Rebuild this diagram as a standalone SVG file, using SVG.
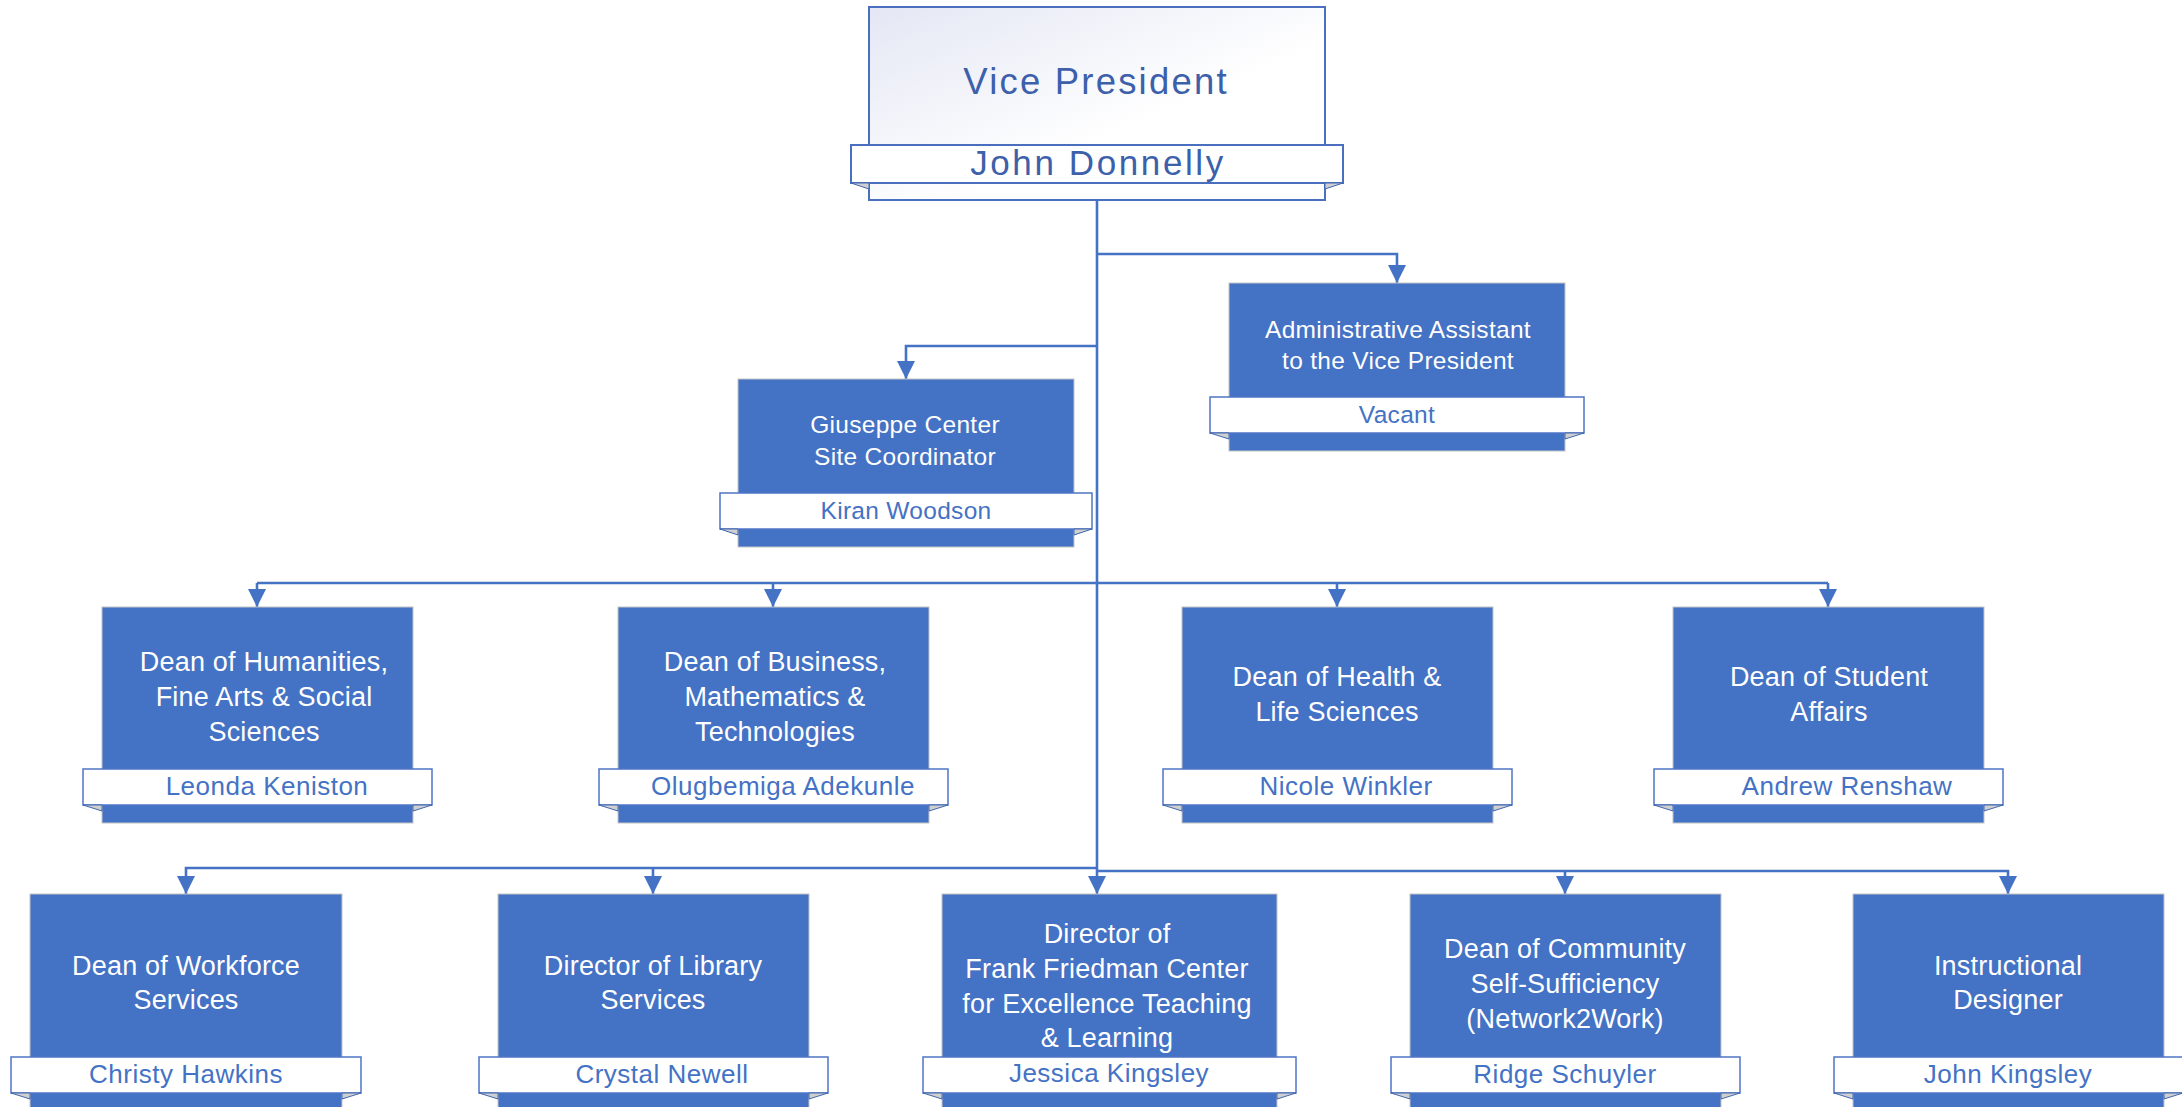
<svg xmlns="http://www.w3.org/2000/svg" width="2182" height="1107" viewBox="0 0 2182 1107">
<style>
.box{fill:#4472c4;stroke:#c4c4c4;stroke-width:1}
.ban{fill:#ffffff;stroke:#4f76c6;stroke-width:1.5}
.fold{fill:#cfcfcf;stroke:#4066b0;stroke-width:1}
.t{font-family:"Liberation Sans",Arial,sans-serif;font-size:27px;fill:#ffffff;text-anchor:middle;letter-spacing:0.2px}
.ts{font-family:"Liberation Sans",Arial,sans-serif;font-size:24.5px;fill:#ffffff;text-anchor:middle;letter-spacing:0.3px}
.n{font-family:"Liberation Sans",Arial,sans-serif;font-size:26px;fill:#4472c4;text-anchor:middle;letter-spacing:0.5px}
.ns{font-family:"Liberation Sans",Arial,sans-serif;font-size:24.5px;fill:#4472c4;text-anchor:middle;letter-spacing:0.3px}
.vp{font-family:"Liberation Sans",Arial,sans-serif;fill:#3d60ab;text-anchor:middle}
.c{fill:none;stroke:#4472c4;stroke-width:2.6}
</style>
<defs>
<linearGradient id="vpg" x1="0" y1="0" x2="1" y2="1">
<stop offset="0" stop-color="#e4e7f4"/>
<stop offset="0.6" stop-color="#ffffff"/>
</linearGradient>
<marker id="ah" markerUnits="userSpaceOnUse" markerWidth="18" markerHeight="18" viewBox="0 0 18 18" refX="18" refY="9" orient="auto">
<path d="M0,0 L18,9 L0,18 z" fill="#4472c4"/>
</marker>
</defs>

<g id="connectors">
<path class="c" d="M1097,200 V894" marker-end="url(#ah)"/>
<path class="c" d="M1097,254 H1397 V283" marker-end="url(#ah)"/>
<path class="c" d="M1097,346 H906 V379" marker-end="url(#ah)"/>
<path class="c" d="M257,583 H1828"/>
<path class="c" d="M257,583 V607" marker-end="url(#ah)"/>
<path class="c" d="M773,583 V607" marker-end="url(#ah)"/>
<path class="c" d="M1337,583 V607" marker-end="url(#ah)"/>
<path class="c" d="M1828,583 V607" marker-end="url(#ah)"/>
<path class="c" d="M1097,868 H186 V894" marker-end="url(#ah)"/>
<path class="c" d="M653,868 V894" marker-end="url(#ah)"/>
<path class="c" d="M1097,871 H2008 V894" marker-end="url(#ah)"/>
<path class="c" d="M1565,871 V894" marker-end="url(#ah)"/>
</g>

<g id="vice-president">
<rect x="869" y="7" width="456" height="193" fill="url(#vpg)" stroke="#4a6fbe" stroke-width="2"/>
<rect x="851" y="145" width="492" height="38" fill="#ffffff" stroke="#4a6fbe" stroke-width="2"/>
<polygon class="fold" points="851,183 869,183 869,189"/>
<polygon class="fold" points="1325,183 1343,183 1325,189"/>
<text class="vp" x="1096" y="94" font-size="36.5" letter-spacing="2.2">Vice President</text>
<text class="vp" x="1098" y="175" font-size="35" letter-spacing="2.6">John Donnelly</text>
</g>

<g id="admin-assistant">
<rect class="box" x="1229" y="283" width="336" height="168"/>
<rect class="ban" x="1210" y="397" width="374" height="36"/>
<polygon class="fold" points="1210,433 1229,433 1229,439"/>
<polygon class="fold" points="1565,433 1584,433 1565,439"/>
<text class="ts" x="1398" y="338">Administrative Assistant</text>
<text class="ts" x="1398" y="369">to the Vice President</text>
<text class="ns" x="1397" y="423">Vacant</text>
</g>

<g id="giuseppe">
<rect class="box" x="738" y="379" width="336" height="168"/>
<rect class="ban" x="720" y="493" width="372" height="36"/>
<polygon class="fold" points="720,529 738,529 738,535"/>
<polygon class="fold" points="1074,529 1092,529 1074,535"/>
<text class="ts" x="905" y="433">Giuseppe Center</text>
<text class="ts" x="905" y="465">Site Coordinator</text>
<text class="ns" x="906" y="519">Kiran Woodson</text>
</g>

<g id="dean-humanities">
<rect class="box" x="102" y="607" width="311" height="216"/>
<rect class="ban" x="83" y="769" width="349" height="36"/>
<polygon class="fold" points="83,805 102,805 102,811"/>
<polygon class="fold" points="413,805 432,805 413,811"/>
<text class="t" x="264" y="671">Dean of Humanities,</text>
<text class="t" x="264" y="706">Fine Arts &amp; Social</text>
<text class="t" x="264" y="741">Sciences</text>
<text class="n" x="267" y="795">Leonda Keniston</text>
</g>

<g id="dean-business">
<rect class="box" x="618" y="607" width="311" height="216"/>
<rect class="ban" x="599" y="769" width="349" height="36"/>
<polygon class="fold" points="599,805 618,805 618,811"/>
<polygon class="fold" points="929,805 948,805 929,811"/>
<text class="t" x="775" y="671">Dean of Business,</text>
<text class="t" x="775" y="706">Mathematics &amp;</text>
<text class="t" x="775" y="741">Technologies</text>
<text class="n" x="783" y="795">Olugbemiga Adekunle</text>
</g>

<g id="dean-health">
<rect class="box" x="1182" y="607" width="311" height="216"/>
<rect class="ban" x="1163" y="769" width="349" height="36"/>
<polygon class="fold" points="1163,805 1182,805 1182,811"/>
<polygon class="fold" points="1493,805 1512,805 1493,811"/>
<text class="t" x="1337" y="686">Dean of Health &amp;</text>
<text class="t" x="1337" y="721">Life Sciences</text>
<text class="n" x="1346" y="795">Nicole Winkler</text>
</g>

<g id="dean-student-affairs">
<rect class="box" x="1673" y="607" width="311" height="216"/>
<rect class="ban" x="1654" y="769" width="349" height="36"/>
<polygon class="fold" points="1654,805 1673,805 1673,811"/>
<polygon class="fold" points="1984,805 2003,805 1984,811"/>
<text class="t" x="1829" y="686">Dean of Student</text>
<text class="t" x="1829" y="721">Affairs</text>
<text class="n" x="1847" y="795">Andrew Renshaw</text>
</g>

<g id="dean-workforce">
<rect class="box" x="30" y="894" width="312" height="240"/>
<rect class="ban" x="11" y="1057" width="350" height="36"/>
<polygon class="fold" points="11,1093 30,1093 30,1099"/>
<polygon class="fold" points="342,1093 361,1093 342,1099"/>
<text class="t" x="186" y="975">Dean of Workforce</text>
<text class="t" x="186" y="1009">Services</text>
<text class="n" x="186" y="1083">Christy Hawkins</text>
</g>

<g id="director-library">
<rect class="box" x="498" y="894" width="311" height="240"/>
<rect class="ban" x="479" y="1057" width="349" height="36"/>
<polygon class="fold" points="479,1093 498,1093 498,1099"/>
<polygon class="fold" points="809,1093 828,1093 809,1099"/>
<text class="t" x="653" y="975">Director of Library</text>
<text class="t" x="653" y="1009">Services</text>
<text class="n" x="662" y="1083">Crystal Newell</text>
</g>

<g id="director-friedman">
<rect class="box" x="942" y="894" width="335" height="240"/>
<rect class="ban" x="923" y="1057" width="373" height="36"/>
<polygon class="fold" points="923,1093 942,1093 942,1099"/>
<polygon class="fold" points="1277,1093 1296,1093 1277,1099"/>
<text class="t" x="1107" y="943">Director of</text>
<text class="t" x="1107" y="978">Frank Friedman Center</text>
<text class="t" x="1107" y="1013">for Excellence Teaching</text>
<text class="t" x="1107" y="1047">&amp; Learning</text>
<text class="n" x="1109" y="1082">Jessica Kingsley</text>
</g>

<g id="dean-community">
<rect class="box" x="1410" y="894" width="311" height="240"/>
<rect class="ban" x="1391" y="1057" width="349" height="36"/>
<polygon class="fold" points="1391,1093 1410,1093 1410,1099"/>
<polygon class="fold" points="1721,1093 1740,1093 1721,1099"/>
<text class="t" x="1565" y="958">Dean of Community</text>
<text class="t" x="1565" y="993">Self-Sufficiency</text>
<text class="t" x="1565" y="1028">(Network2Work)</text>
<text class="n" x="1565" y="1083">Ridge Schuyler</text>
</g>

<g id="instructional-designer">
<rect class="box" x="1853" y="894" width="311" height="240"/>
<rect class="ban" x="1834" y="1057" width="349" height="36"/>
<polygon class="fold" points="1834,1093 1853,1093 1853,1099"/>
<polygon class="fold" points="2164,1093 2183,1093 2164,1099"/>
<text class="t" x="2008" y="975">Instructional</text>
<text class="t" x="2008" y="1009">Designer</text>
<text class="n" x="2008" y="1083">John Kingsley</text>
</g>
</svg>
